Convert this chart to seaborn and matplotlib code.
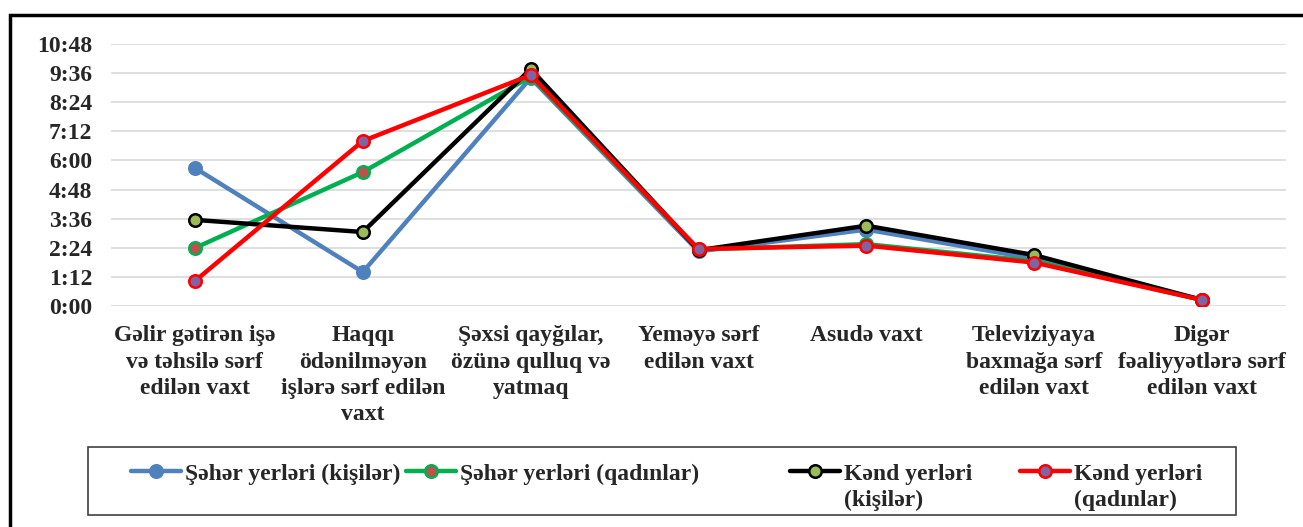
import matplotlib
matplotlib.use("Agg")
import matplotlib.pyplot as plt
from matplotlib.patches import Rectangle
from matplotlib.ticker import FuncFormatter
import seaborn as sns
import pandas as pd

# categories (x axis)
categories = [
    "Gəlir gətirən işə\nvə təhsilə sərf\nedilən vaxt",
    "Haqqı\nödənilməyən\nişlərə sərf edilən\nvaxt",
    "Şəxsi qayğılar,\nözünə qulluq və\nyatmaq",
    "Yeməyə sərf\nedilən vaxt",
    "Asudə vaxt",
    "Televiziyaya\nbaxmağa sərf\nedilən vaxt",
    "Digər\nfəaliyyətlərə sərf\nedilən vaxt",
]

# values in hours
seher_kisiler = [5.69, 1.40, 9.40, 2.25, 3.15, 1.95, 0.25]
seher_qadinlar = [2.39, 5.52, 9.45, 2.33, 2.55, 1.85, 0.25]
kend_kisiler = [3.55, 3.05, 9.77, 2.30, 3.31, 2.10, 0.25]
kend_qadinlar = [1.03, 6.80, 9.52, 2.35, 2.49, 1.79, 0.25]

series_names = ["Şəhər yerləri (kişilər)", "Şəhər yerləri (qadınlar)",
                "Kənd yerləri\n(kişilər)", "Kənd yerləri\n(qadınlar)"]

y_ticks = [0, 1.2, 2.4, 3.6, 4.8, 6.0, 7.2, 8.4, 9.6, 10.8]

sns.set_theme(style="white")
plt.rcParams["font.family"] = ["Liberation Serif", "DejaVu Serif"]
plt.rcParams["font.weight"] = "bold"

W, H = 1303, 527
FS = 17
fig = plt.figure(figsize=(W / 100, H / 100), dpi=100)
ax = fig.add_axes([111 / W, 1 - 306 / H, 1175 / W, 262 / H])

styles = [
    dict(color="#4F81BD", mfc="#4F81BD", mec="#4F81BD"),
    dict(color="#00B050", mfc="#C0504D", mec="#00B050"),
    dict(color="#000000", mfc="#9BBB59", mec="#000000"),
    dict(color="#FF0000", mfc="#8064A2", mec="#FF0000"),
]
all_values = [seher_kisiler, seher_qadinlar, kend_kisiler, kend_qadinlar]

handles = []
for name, vals, st in zip(series_names, all_values, styles):
    df = pd.DataFrame({"x": range(len(categories)), "y": vals})
    sns.lineplot(data=df, x="x", y="y", ax=ax, color=st["color"], linewidth=3.2,
                 marker="o", markersize=9, markerfacecolor=st["mfc"],
                 markeredgecolor=st["mec"], markeredgewidth=1.8, label=name, legend=False)
    handles.append(ax.lines[-1])

ax.set_xlim(-0.5, len(categories) - 0.5)
ax.set_ylim(0, 10.8)
ax.set_yticks(y_ticks)
ax.yaxis.set_major_formatter(FuncFormatter(lambda v, p: f"{int(round(v * 60)) // 60}:{int(round(v * 60)) % 60:02d}"))
ax.set_xticks(range(len(categories)))
ax.set_xticklabels(categories, fontsize=FS, fontweight="bold", linespacing=1.32, va="top")
for lbl in ax.get_yticklabels():
    lbl.set_fontsize(FS)
    lbl.set_fontweight("bold")
ax.tick_params(axis="x", length=0, pad=14)
ax.tick_params(axis="y", length=0, pad=13.5)
ax.set_xlabel("")
ax.set_ylabel("")
ax.grid(axis="y", color="#D9D9D9", linewidth=1.2)
ax.grid(axis="x", visible=False)
for s in ax.spines.values():
    s.set_visible(False)
ax.set_axisbelow(True)

# legend box
fig.patches.append(Rectangle((88 / W, 1 - 515 / H), 1148 / W, 68 / H,
                             transform=fig.transFigure, fill=False, edgecolor="#404040",
                             linewidth=1.2))
# one legend per entry so each sits where Excel put it; the handle sits on the
# first line of the label, the second line is written under it
legend_x = [131, 406, 790, 1020]
legends = []
for h, name, lx in zip(handles, series_names, legend_x):
    first = name.split("\n")[0]
    leg = fig.legend(handles=[h], labels=[first], loc="upper left",
                     bbox_to_anchor=(lx / W, 1 - 463 / H), frameon=False,
                     fontsize=FS, handlelength=2.1, handletextpad=0.2,
                     borderaxespad=0, borderpad=0)
    for t in leg.get_texts():
        t.set_fontweight("bold")
    legends.append(leg)

fig.canvas.draw()
for leg, name in zip(legends, series_names):
    parts = name.split("\n")
    if len(parts) > 1:
        t = leg.get_texts()[0]
        bx, by = t.get_transform().transform((0, 0))
        fig.text(bx / W, (by - 26) / H, parts[1], fontsize=FS, fontweight="bold",
                 va="baseline", ha="left")

# outer frame of the chart (open on right and bottom)
fig.patches.append(Rectangle((10 / W, -0.1), 2.0, 1.1 - 15 / H,
                             transform=fig.transFigure, fill=False, edgecolor="black",
                             linewidth=2.5))

fig.savefig("out.png", dpi=100)
